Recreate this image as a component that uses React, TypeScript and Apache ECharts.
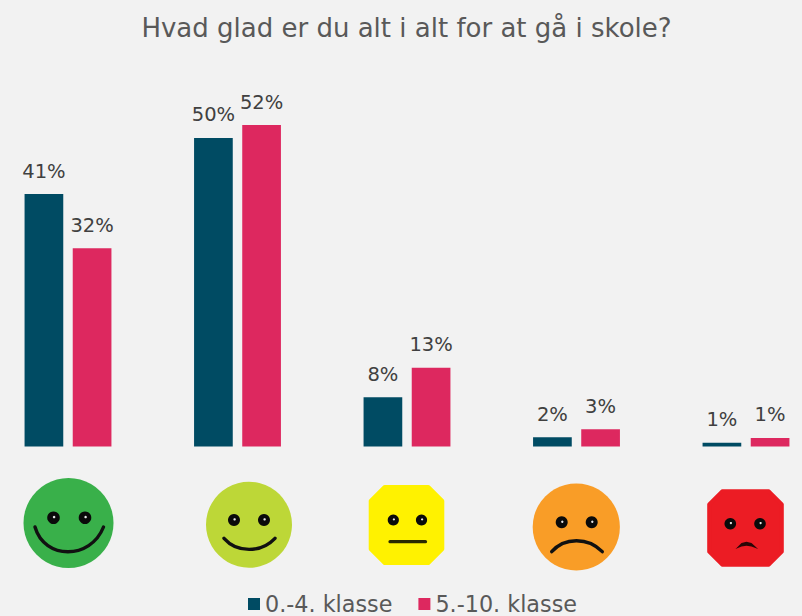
import React, { useEffect, useRef } from "react";
import * as echarts from "echarts";

const categories = ["Meget glad", "Glad", "Neutral", "Ked af det", "Meget ked af det"];
const series1Name = "0.-4. klasse";
const series2Name = "5.-10. klasse";
const series1Values = [41, 50.1, 8, 1.5, 0.6];
const series2Values = [32.2, 52.2, 12.8, 2.8, 1.4];
const titleText = "Hvad glad er du alt i alt for at gå i skole?";

const FONT = "'DejaVu Sans', Verdana, sans-serif";

function eye(cx: number, cy: number, r: number) {
  return [
    { type: "circle", shape: { cx, cy, r }, style: { fill: "#0a0a0a" } },
    { type: "circle", shape: { cx: cx + 0.6, cy: cy - 0.6, r: r * 0.2 }, style: { fill: "#e8e8e8" } },
  ];
}

function mouth(d: number[], w: number) {
  const [x1, y1, cpx1, cpy1, cpx2, cpy2, x2, y2] = d;
  return {
    type: "bezierCurve",
    shape: { x1, y1, cpx1, cpy1, cpx2, cpy2, x2, y2 },
    style: { stroke: "#111111", lineWidth: w, lineCap: "round", fill: "none" },
  };
}

function octagon(rx: number, ry: number, c: number) {
  return [
    [-rx + c, -ry], [rx - c, -ry], [rx, -ry + c], [rx, ry - c],
    [rx - c, ry], [-rx + c, ry], [-rx, ry - c], [-rx, -ry + c],
  ];
}

function softOctagon(rx: number, ry: number, c: number, fill: string) {
  return {
    type: "polygon",
    shape: { points: octagon(rx - 2, ry - 2, c) },
    style: { fill, stroke: fill, lineWidth: 4, lineJoin: "round" },
  };
}

function face(x: number, y: number, children: any[]) {
  return { type: "group", x, y, children };
}

function faces() {
  return [
    face(68.5, 523, [
      { type: "circle", shape: { cx: 0, cy: 0, r: 45 }, style: { fill: "#39b04a" } },
      ...eye(-15, -5.3, 6.3), ...eye(16.5, -5.3, 6.3),
      mouth([-33.5, 4, -24, 37, 22, 37, 35, 4], 3.4),
    ]),
    face(249, 524.7, [
      { type: "circle", shape: { cx: 0, cy: 0, r: 43 }, style: { fill: "#bdd737" } },
      ...eye(-15, -4.7, 6), ...eye(15, -4.7, 6),
      mouth([-25, 13.6, -12, 28.4, 12, 28.4, 26, 13.6], 3.4),
    ]),
    face(406.5, 525, [
      softOctagon(37.8, 40, 14, "#fff200"),
      ...eye(-13.2, -5, 5.6), ...eye(15, -5, 5.6),
      { type: "line", shape: { x1: -16.5, y1: 16.7, x2: 19, y2: 16.7 }, style: { stroke: "#2a2a00", lineWidth: 3.2, lineCap: "round" } },
    ]),
    face(576.3, 527, [
      { type: "circle", shape: { cx: 0, cy: 0, r: 43.6 }, style: { fill: "#f99d27" } },
      ...eye(-14.6, -4.7, 6), ...eye(15.4, -4.7, 6),
      mouth([-24.6, 24.7, -12, 10, 12, 10, 26, 24.7], 3.4),
    ]),
    face(745.5, 528, [
      softOctagon(38.3, 38.7, 13, "#ec1c24"),
      ...eye(-15.2, -4.3, 5.8), ...eye(14.5, -4.3, 5.8),
      { type: "polygon", shape: { points: [[-10, 21], [-4, 15], [1, 13.7], [6, 15], [12.6, 21], [6, 18.5], [1, 17.7], [-4, 18.5]] }, style: { fill: "#2a0606" } },
    ]),
  ];
}

export default function App() {
  const ref = useRef<HTMLDivElement>(null);
  useEffect(() => {
    const chart = echarts.init(ref.current!, undefined, { renderer: "svg" });
    const label = {
      show: true,
      position: "top" as const,
      distance: 13,
      color: "#404040",
      fontFamily: FONT,
      fontSize: 19.5,
      formatter: (p: any) => Math.round(p.value) + "%",
    };
    chart.setOption({
      animation: false,
      backgroundColor: "#f2f2f2",
      title: {
        text: titleText,
        left: 401.5,
        top: 10,
        textAlign: "center",
        textStyle: { color: "#595959", fontFamily: FONT, fontSize: 26, fontWeight: "normal" },
      },
      legend: {
        top: 593,
        left: 243,
        padding: [0, 5, 0, 5],
        itemWidth: 12,
        itemHeight: 12,
        itemGap: 26,
        icon: "rect",
        data: [series1Name, series2Name],
        textStyle: { color: "#595959", fontFamily: FONT, fontSize: 22.3, padding: [0, 0, 0, 0] },
      },
      grid: { outerBoundsMode: "none", left: -16.75, width: 847.5, top: 77, height: 369.5 },
      xAxis: {
        type: "category",
        data: categories,
        axisLine: { show: false },
        axisTick: { show: false },
        axisLabel: { show: false },
      },
      yAxis: { type: "value", min: 0, max: 60, interval: 10, show: false },
      series: [
        {
          name: series1Name,
          type: "bar",
          data: series1Values,
          barWidth: 38.7,
          barGap: "24.5%",
          itemStyle: { color: "#004b63" },
          label,
        },
        {
          name: series2Name,
          type: "bar",
          data: series2Values,
          barWidth: 38.7,
          itemStyle: { color: "#dd285f" },
          label,
        },
      ],
      graphic: faces(),
    });
    return () => chart.dispose();
  }, []);
  return <div ref={ref} style={{ position: "fixed", left: 0, top: 0, width: 802, height: 616 }} />;
}
